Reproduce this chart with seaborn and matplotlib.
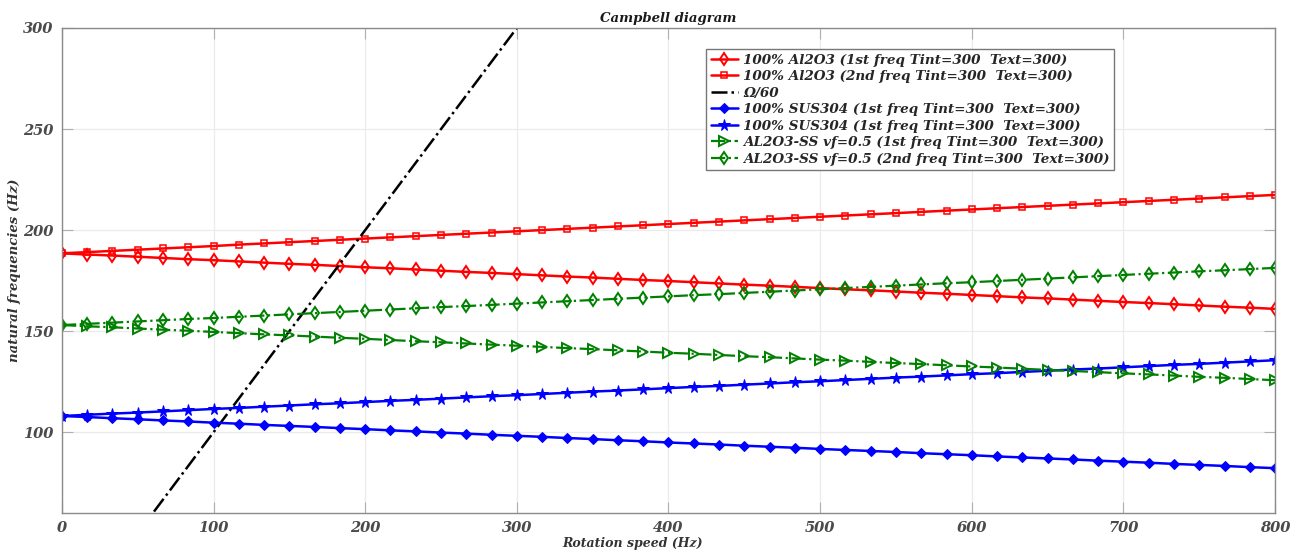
import numpy as np
import matplotlib
matplotlib.use("Agg")
import matplotlib.pyplot as plt
import seaborn as sns

# Rotation speed samples (Hz)
speed = np.linspace(0, 800, 49)

al2o3_1st = [188.5, 187.9, 187.4, 186.8, 186.2, 185.6, 185.1, 184.5, 183.9, 183.3,
             182.8, 182.2, 181.6, 181.1, 180.5, 179.9, 179.3, 178.8, 178.2, 177.6,
             177.0, 176.5, 175.9, 175.3, 174.8, 174.2, 173.6, 173.0, 172.5, 171.9,
             171.3, 170.7, 170.2, 169.6, 169.0, 168.5, 167.9, 167.3, 166.7, 166.2,
             165.6, 165.0, 164.4, 163.9, 163.3, 162.7, 162.1, 161.6, 161.0]
al2o3_2nd = [188.5, 189.1, 189.7, 190.3, 190.9, 191.5, 192.1, 192.8, 193.4, 194.0,
             194.6, 195.2, 195.8, 196.4, 197.0, 197.6, 198.2, 198.8, 199.4, 200.0,
             200.6, 201.2, 201.8, 202.4, 203.0, 203.6, 204.2, 204.8, 205.4, 206.0,
             206.6, 207.2, 207.8, 208.4, 209.0, 209.6, 210.2, 210.8, 211.4, 212.0,
             212.6, 213.2, 213.8, 214.4, 215.0, 215.6, 216.2, 216.8, 217.4]
sus304_1st = [108.0, 107.5, 106.9, 106.4, 105.8, 105.3, 104.7, 104.2, 103.6, 103.1,
              102.6, 102.0, 101.5, 100.9, 100.4, 99.8, 99.3, 98.7, 98.2, 97.7,
              97.1, 96.6, 96.0, 95.5, 94.9, 94.4, 93.9, 93.3, 92.8, 92.3,
              91.7, 91.2, 90.7, 90.2, 89.6, 89.1, 88.6, 88.0, 87.5, 87.0,
              86.5, 85.9, 85.4, 84.9, 84.3, 83.8, 83.3, 82.7, 82.2]
sus304_2nd = [108.0, 108.6, 109.2, 109.7, 110.3, 110.9, 111.5, 112.0, 112.6, 113.2,
              113.8, 114.3, 114.9, 115.5, 116.0, 116.6, 117.2, 117.8, 118.3, 118.9,
              119.5, 120.1, 120.6, 121.2, 121.8, 122.4, 122.9, 123.5, 124.1, 124.7,
              125.2, 125.8, 126.4, 127.0, 127.5, 128.1, 128.7, 129.2, 129.8, 130.4,
              131.0, 131.5, 132.1, 132.7, 133.3, 133.8, 134.4, 135.0, 135.6]
fgm_1st = [153.0, 152.4, 151.9, 151.3, 150.7, 150.2, 149.6, 149.0, 148.4, 147.9,
           147.3, 146.7, 146.2, 145.6, 145.0, 144.5, 143.9, 143.3, 142.8, 142.2,
           141.6, 141.1, 140.5, 139.9, 139.3, 138.8, 138.2, 137.6, 137.1, 136.5,
           135.9, 135.4, 134.8, 134.2, 133.7, 133.1, 132.5, 132.0, 131.4, 130.8,
           130.3, 129.7, 129.1, 128.6, 128.0, 127.4, 126.9, 126.3, 125.7]
fgm_2nd = [153.0, 153.6, 154.2, 154.8, 155.4, 156.0, 156.5, 157.1, 157.7, 158.3,
           158.9, 159.5, 160.1, 160.7, 161.3, 161.9, 162.4, 163.0, 163.6, 164.2,
           164.8, 165.4, 166.0, 166.6, 167.2, 167.8, 168.3, 168.9, 169.5, 170.1,
           170.7, 171.3, 171.9, 172.5, 173.1, 173.7, 174.2, 174.8, 175.4, 176.0,
           176.6, 177.2, 177.8, 178.4, 179.0, 179.6, 180.1, 180.7, 181.3]

# Excitation line Omega/60 (Omega in rpm)
omega_rpm = [0, 48000]
omega_hz = [0, 800]
omega_over_60 = [v / 60 for v in omega_rpm]

labels = [
    "100% Al2O3 (1st freq Tint=300  Text=300)",
    "100% Al2O3 (2nd freq Tint=300  Text=300)",
    "\u03A9/60",
    "100% SUS304 (1st freq Tint=300  Text=300)",
    "100% SUS304 (1st freq Tint=300  Text=300)",
    "AL2O3-SS vf=0.5 (1st freq Tint=300  Text=300)",
    "AL2O3-SS vf=0.5 (2nd freq Tint=300  Text=300)",
]

sns.set_theme(style="whitegrid")
plt.rcParams['font.family'] = ['DejaVu Serif']
plt.rcParams['font.style'] = 'italic'
plt.rcParams['font.weight'] = 'bold'
plt.rcParams['axes.titleweight'] = 'bold'
plt.rcParams['axes.labelweight'] = 'bold'

fig = plt.figure(figsize=(13.04, 5.53), dpi=100)
ax = fig.add_axes([0.0475, 0.0723, 0.9303, 0.8771])

red = "#ff0000"
blue = "#0000ff"
green = "#008000"

sns.lineplot(x=speed, y=al2o3_1st, ax=ax, color=red, lw=1.8, marker="d", ms=6,
             mfc="none", mec=red, mew=1.4, label=labels[0])
sns.lineplot(x=speed, y=al2o3_2nd, ax=ax, color=red, lw=1.8, marker="s", ms=4,
             mfc="none", mec=red, mew=1.1, label=labels[1])
sns.lineplot(x=omega_hz, y=omega_over_60, ax=ax, color="black", lw=1.8,
             linestyle="-.", label=labels[2])
sns.lineplot(x=speed, y=sus304_1st, ax=ax, color=blue, lw=1.8, marker="D", ms=5,
             mfc=blue, mec=blue, label=labels[3])
sns.lineplot(x=speed, y=sus304_2nd, ax=ax, color=blue, lw=1.8, marker="*", ms=8.5,
             mfc=blue, mec=blue, label=labels[4])
sns.lineplot(x=speed, y=fgm_1st, ax=ax, color=green, lw=1.6, linestyle="-.",
             marker=">", ms=6.5, mfc="none", mec=green, mew=1.4, label=labels[5])
sns.lineplot(x=speed, y=fgm_2nd, ax=ax, color=green, lw=1.6, linestyle="-.",
             marker="d", ms=6.5, mfc="none", mec=green, mew=1.4, label=labels[6])

ax.set_xlim(0, 800)
ax.set_ylim(60, 300)
ax.set_xticks(np.arange(0, 801, 100))
ax.set_yticks(np.arange(100, 301, 50))
ax.grid(True, color="#ebebeb", lw=0.9)
for s in ax.spines.values():
    s.set_color("#8a8a8a")
    s.set_linewidth(1.0)
ax.tick_params(axis="both", direction="in", length=8, width=0.8, color="#b0b0b0",
               labelsize=10.5, labelcolor="#4a4a4a", top=True, right=True,
               left=True, bottom=True)
ax.tick_params(axis="y", pad=6)
ax.tick_params(axis="x", pad=6)

ax.set_title("Campbell diagram", fontsize=9.5, pad=4, color="#1a1a1a",
             fontweight="bold", fontstyle="italic")
ax.set_xlabel("Rotation speed (Hz)", fontsize=9, color="#333333",
              fontweight="bold", fontstyle="italic")
ax.xaxis.set_label_coords(0.47, -0.05)
ax.xaxis.label.set_va("top")
ax.set_ylabel("natural frequencies (Hz)", fontsize=9.5, color="#333333",
              fontweight="bold", fontstyle="italic")
ax.yaxis.set_label_coords(-0.034, 0.5)

leg = ax.legend(loc="upper left", bbox_to_anchor=(0.531, 0.957), fontsize=9.7,
                frameon=True, fancybox=False, borderpad=0.35, labelspacing=0.26,
                handlelength=2.0, handletextpad=0.4, borderaxespad=0)
leg.get_frame().set_edgecolor("#777777")
leg.get_frame().set_linewidth(1.0)
leg.get_frame().set_alpha(1.0)

fig.savefig("out.png", dpi=100)
